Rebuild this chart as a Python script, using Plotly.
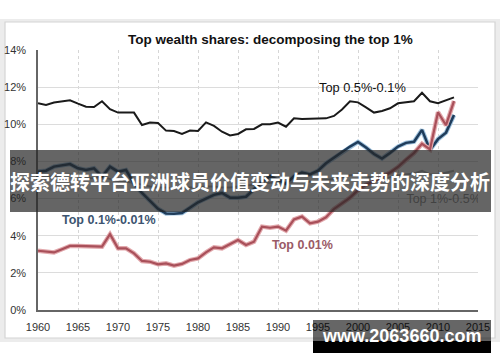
import plotly.graph_objects as go

years = list(range(1960, 2013))

top_05_01 = [11.13, 11.04, 11.17, 11.22, 11.29, 11.11, 10.95, 10.93, 11.24, 10.81,
             10.63, 10.63, 10.63, 9.96, 10.10, 10.07, 9.66, 9.64, 9.48, 9.66,
             9.64, 10.10, 9.91, 9.60, 9.40, 9.48, 9.73, 9.75, 10.00, 10.00,
             10.09, 9.87, 10.32, 10.29, 10.29, 10.30, 10.32, 10.45, 10.80, 11.24,
             11.18, 10.91, 10.63, 10.72, 10.86, 11.13, 11.17, 11.24, 11.70, 11.24,
             11.13, 11.31, 11.45]

top_01_001 = [7.45, 7.50, 7.72, 7.80, 7.86, 7.63, 7.54, 7.63, 7.18, 7.72,
              7.45, 7.54, 6.80, 6.30, 5.90, 5.45, 5.20, 5.18, 5.22, 5.50,
              5.80, 6.00, 6.20, 6.30, 6.05, 6.05, 6.10, 6.50, 6.90, 7.20,
              7.00, 6.80, 7.20, 7.40, 7.30, 7.50, 7.90, 8.20, 8.50, 8.80,
              9.05, 8.75, 8.40, 8.15, 8.45, 8.80, 9.00, 9.06, 9.70, 8.62,
              9.20, 9.55, 10.50]

top_001 = [3.19, 3.14, 3.10, 3.27, 3.45, 3.45, 3.45, 3.41, 3.41, 4.08,
           3.32, 3.32, 3.05, 2.64, 2.60, 2.46, 2.51, 2.39, 2.48, 2.69,
           2.78, 3.10, 3.37, 3.32, 3.55, 3.77, 3.50, 3.68, 4.49, 4.43,
           4.49, 4.27, 4.88, 5.03, 4.67, 4.76, 4.99, 5.44, 5.74, 6.05,
           6.45, 6.75, 6.95, 7.15, 7.40, 7.70, 8.10, 8.45, 8.95, 8.65,
           10.65, 9.95, 11.25]

top_1_05 = [7.20, 7.15, 7.20, 7.25, 7.30, 7.20, 7.10, 7.10, 7.20, 7.05,
            6.95, 6.90, 6.85, 6.75, 6.65, 6.60, 6.60, 6.55, 6.55, 6.60,
            6.60, 6.65, 6.65, 6.60, 6.60, 6.65, 6.70, 6.75, 6.80, 6.85,
            6.85, 6.80, 6.90, 6.95, 6.90, 6.95, 7.00, 7.05, 7.15, 7.25,
            7.30, 7.20, 7.10, 7.10, 7.15, 7.25, 7.30, 7.35, 7.50, 7.30,
            7.30, 7.40, 7.50]

x_ticks = [1960, 1965, 1970, 1975, 1980, 1985, 1990, 1995, 2000, 2005, 2010, 2015]
y_ticks = [0, 2, 4, 6, 8, 10, 12, 14]
y_tick_text = [f"{v}%" for v in y_ticks]

title_text = "Top wealth shares: decomposing the top 1%"
banner_text = "探索德转平台亚洲球员价值变动与未来走势的深度分析"
watermark_text = "www.2063660.com"

W, H = 500, 362
L, R, T, B = 38, 22, 50, 52
PW, PH = W - L - R, H - T - B


def px(x):
    return (x - L) / PW


def py(y):
    return (H - B - y) / PH


fig = go.Figure()

fig.add_trace(go.Scatter(x=years, y=top_1_05, mode="lines",
                         line=dict(color="#b0b0b0", width=2), hoverinfo="skip"))
fig.add_trace(go.Scatter(x=years, y=top_05_01, mode="lines",
                         line=dict(color="#1a1a1a", width=2), hoverinfo="skip"))
fig.add_trace(go.Scatter(x=years, y=top_01_001, mode="lines",
                         line=dict(color="#9ec0dc", width=4.5), hoverinfo="skip"))
fig.add_trace(go.Scatter(x=years, y=top_01_001, mode="lines",
                         line=dict(color="#1f3c5a", width=2.5), hoverinfo="skip"))
fig.add_trace(go.Scatter(x=years, y=top_001, mode="lines",
                         line=dict(color="#e2a9ad", width=4.5), hoverinfo="skip"))
fig.add_trace(go.Scatter(x=years, y=top_001, mode="lines",
                         line=dict(color="#a9505a", width=2.2), hoverinfo="skip"))

# label under the banner (drawn as trace text so the banner covers it)
fig.add_trace(go.Scatter(x=[2010.7], y=[5.92], mode="text", text=["Top 1%-0.5%"],
                         textfont=dict(family="Liberation Sans, Arial", size=12.5, color="#8a8a8a"),
                         hoverinfo="skip"))

shapes = [
    dict(type="rect", xref="paper", yref="paper", x0=px(0), x1=px(500), y0=py(19), y1=py(342),
         fillcolor="#ececec", line=dict(width=0), layer="below"),
    dict(type="rect", xref="paper", yref="paper", x0=px(5), x1=px(495), y0=py(22), y1=py(338),
         fillcolor="white", line=dict(color="#d4d4d4", width=1.2), layer="below"),
    dict(type="rect", xref="paper", yref="paper", x0=px(10), x1=px(491), y0=py(150), y1=py(212),
         fillcolor="rgba(35,35,35,0.70)", line=dict(width=0), layer="above"),
    dict(type="rect", xref="paper", yref="paper", x0=px(313), x1=px(491), y0=py(320), y1=py(341),
         fillcolor="rgba(0,0,0,0.6)", line=dict(width=0), layer="above"),
    dict(type="rect", xref="paper", yref="paper", x0=px(313), x1=px(491), y0=py(341), y1=py(353),
         fillcolor="black", line=dict(width=0), layer="above"),
]

center = dict(xanchor="center", yanchor="middle", showarrow=False)
annotations = [
    dict(text=f"<b>{title_text}</b>", xref="paper", yref="paper", x=px(270), y=py(40),
         font=dict(family="Liberation Sans, Arial", size=13.5, color="#111"), **center),
    dict(text="Top 0.5%-0.1%", xref="x", yref="y", x=2000.6, y=12.0,
         font=dict(family="Liberation Sans, Arial", size=12.8, color="#111"), **center),
    dict(text="<b>Top 0.1%-0.01%</b>", xref="x", yref="y", x=1968.9, y=4.85,
         font=dict(family="Liberation Sans, Arial", size=12.5, color="#3c5470"), **center),
    dict(text="<b>Top 0.01%</b>", xref="x", yref="y", x=1993.0, y=3.5,
         font=dict(family="Liberation Sans, Arial", size=12.5, color="#9a5a66"), **center),
    dict(text=f"<b>{banner_text}</b>", xref="paper", yref="paper", x=px(250), y=py(181),
         font=dict(family="Noto Sans CJK SC", size=20, color="white"), **center),
    dict(text=f"<b>{watermark_text}</b>", xref="paper", yref="paper", x=px(401), y=py(336),
         font=dict(family="Liberation Sans, Arial", size=18, color="white"), **center),
]

fig.update_layout(
    width=W, height=H,
    margin=dict(l=L, r=R, t=T, b=B, pad=0),
    paper_bgcolor="white",
    plot_bgcolor="rgba(0,0,0,0)",
    showlegend=False,
    shapes=shapes,
    annotations=annotations,
    font=dict(family="Liberation Sans, Arial", size=11, color="#333"),
    xaxis=dict(range=[1960, 2015], tickvals=x_ticks, showgrid=True, gridcolor="#d6d6d6",
               griddash="dot", gridwidth=1, showline=True, linecolor="#666", linewidth=1.5,
               zeroline=False, ticks="", ticklabelstandoff=6, automargin=False,
               tickfont=dict(family="Liberation Sans, Arial", size=11, color="#333"), fixedrange=True),
    yaxis=dict(range=[0, 14], tickvals=y_ticks, ticktext=y_tick_text, showgrid=True,
               gridcolor="#dcdcdc", gridwidth=1, showline=True, linecolor="#666", linewidth=1.5,
               zeroline=False, ticks="", ticklabelstandoff=8, automargin=False,
               tickfont=dict(family="Liberation Sans, Arial", size=11, color="#333"), fixedrange=True),
)

# the page body has a default 8px margin; remove it so the figure fills the window exactly
fig.write_html("out.html", config={"displayModeBar": False},
               post_script="document.body.style.margin='0px';")
